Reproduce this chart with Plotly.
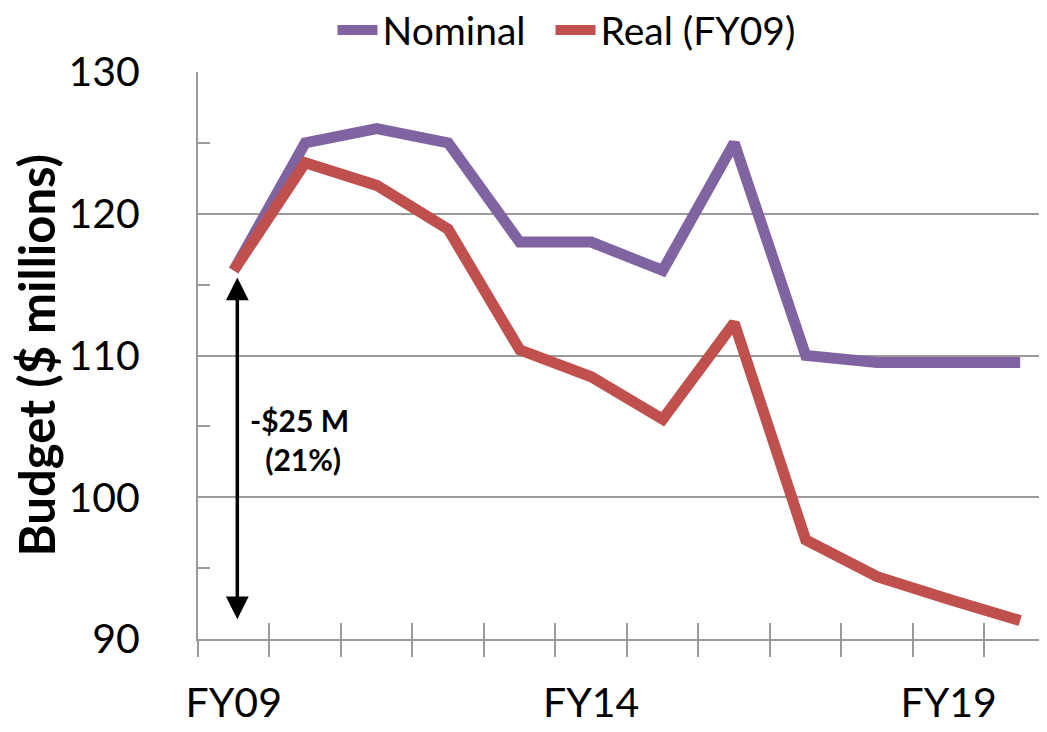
import plotly.graph_objects as go

years = ["FY09", "FY10", "FY11", "FY12", "FY13", "FY14", "FY15", "FY16", "FY17", "FY18", "FY19", "FY20"]
nominal = [116, 125, 126, 125, 118, 118, 116, 125, 110, 109.5, 109.5, 109.5]
real = [116, 123.6, 122, 118.9, 110.4, 108.5, 105.5, 112.3, 97, 94.4, 92.8, 91.3]
tick_idx = [0, 5, 10]
tick_text = ["FY09", "FY14", "FY19"]

FONT = "Lato, Calibri, Carlito, sans-serif"
GRID = "#9a9a9a"
x = list(range(len(years)))

fig = go.Figure()
fig.add_trace(go.Scatter(x=x, y=nominal, mode="lines", name="Nominal\u00a0\u00a0",
                         line=dict(color="#8064A2", width=11)))
fig.add_trace(go.Scatter(x=x, y=real, mode="lines", name="Real (FY09)",
                         line=dict(color="#C0504D", width=11)))

boundaries = [i - 0.5 for i in range(len(years) + 1)]

fig.update_layout(
    width=1047, height=732,
    margin=dict(l=190, r=8, t=64, b=101, autoexpand=False),
    paper_bgcolor="white", plot_bgcolor="white",
    font=dict(family=FONT, color="black"),
    showlegend=True,
    legend=dict(orientation="h", x=0.434, xanchor="center", y=1.074, yanchor="middle",
                yref="paper", font=dict(size=39), itemwidth=40,
                bgcolor="rgba(0,0,0,0)", tracegroupgap=0),
    xaxis=dict(range=[-0.5, 11.375], tickvals=tick_idx, ticktext=tick_text,
               ticks="", showgrid=False, zeroline=False, automargin=False,
               showline=True, linecolor=GRID, linewidth=2,
               tickfont=dict(size=41), ticklabelstandoff=27,
               minor=dict(tick0=-0.5, dtick=1, ticks="outside", ticklen=16,
                          tickwidth=2, tickcolor=GRID, showgrid=False)),
    xaxis2=dict(range=[-0.5, 11.375], overlaying="x", side="bottom",
                tickvals=boundaries, ticks="inside", ticklen=16, tickwidth=2,
                tickcolor=GRID, showticklabels=False, showgrid=False,
                zeroline=False, showline=False, automargin=False),
    yaxis=dict(range=[90, 130], dtick=10, tick0=90, showgrid=True,
               gridcolor=GRID, gridwidth=2, zeroline=False, automargin=False,
               showline=True, linecolor=GRID, linewidth=2,
               ticks="", tickfont=dict(size=41), ticklabelstandoff=48,
               minor=dict(dtick=5, tick0=90, ticks="inside", ticklen=12,
                          tickwidth=2, tickcolor=GRID, showgrid=False)),
)

# invisible trace to activate xaxis2
fig.add_trace(go.Scatter(x=[0], y=[None], xaxis="x2", showlegend=False,
                         hoverinfo="skip", mode="lines"))

fig.add_annotation(text="<b>Budget ($ millions)</b>", textangle=-90,
                   xref="paper", yref="paper", x=(27 - 190) / 849, y=0.5,
                   xanchor="center", yanchor="middle", showarrow=False,
                   font=dict(size=49), borderpad=0)

fig.add_annotation(x=0.05, y=91.4, ax=0.05, ay=115.6, xref="x", yref="y",
                   axref="x", ayref="y", text="", showarrow=True,
                   arrowhead=2, startarrowhead=2, arrowside="end+start",
                   arrowwidth=3.5, arrowsize=1.3, startarrowsize=1.3,
                   arrowcolor="black")
fig.add_annotation(x=0.92, y=104.1, xref="x", yref="y",
                   text="<b>-$25 M<br> (21%)</b>", showarrow=False,
                   font=dict(size=30), align="center")

fig.write_html("out.html")
